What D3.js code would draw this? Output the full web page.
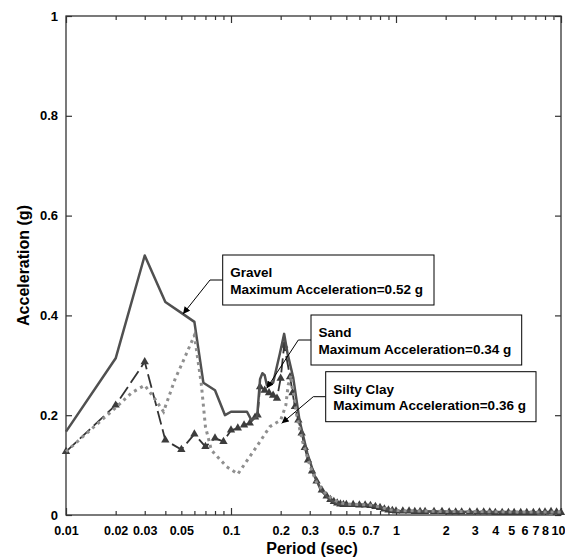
<!DOCTYPE html>
<html>
<head>
<meta charset="utf-8">
<script src="https://cdn.jsdelivr.net/npm/d3@7/dist/d3.min.js"></script>
<style>
  html, body { margin: 0; padding: 0; background: #fff; }
  svg { display: block; font-family: "Liberation Sans", Arial, sans-serif; }
</style>
</head>
<body>
<svg id="chart" width="565" height="559"></svg>
<script>
// ---------- data ----------
const gravelPeriod = [0.01, 0.02, 0.03, 0.04, 0.05, 0.06, 0.068, 0.08, 0.092, 0.1, 0.125, 0.133, 0.144, 0.15, 0.155, 0.16, 0.165, 0.18, 0.198, 0.21, 0.22, 0.238, 0.26, 0.29, 0.32, 0.35, 0.4, 0.45, 0.5, 0.6, 0.7, 0.8, 0.9, 1.0, 1.5, 2, 3, 5, 7, 10];
const gravelAcc    = [0.167, 0.314, 0.52, 0.427, 0.405, 0.387, 0.265, 0.25, 0.2, 0.207, 0.207, 0.19, 0.197, 0.272, 0.284, 0.28, 0.26, 0.265, 0.324, 0.363, 0.324, 0.276, 0.19, 0.124, 0.08, 0.05, 0.03, 0.022, 0.021, 0.021, 0.02, 0.016, 0.011, 0.008, 0.007, 0.007, 0.006, 0.006, 0.005, 0.005];

const sandPeriod = [0.01, 0.02, 0.03, 0.04, 0.05, 0.06, 0.07, 0.08, 0.09, 0.1, 0.11, 0.12, 0.13, 0.14, 0.145, 0.15, 0.16, 0.17, 0.18, 0.19, 0.2, 0.21, 0.228, 0.236, 0.244, 0.256, 0.268, 0.28, 0.293, 0.31, 0.33, 0.355, 0.38, 0.4, 0.42, 0.44, 0.46, 0.48, 0.5, 0.55, 0.6, 0.65, 0.7, 0.75, 0.8, 0.85, 0.9, 0.95, 1.0, 1.1, 1.2, 1.3, 1.4, 1.5, 1.7, 1.9, 2.1, 2.3, 2.5, 2.8, 3.1, 3.4, 3.7, 4.0, 4.4, 4.8, 5.2, 5.7, 6.2, 6.8, 7.4, 8.0, 8.7, 9.4, 10];
const sandAcc    = [0.127, 0.22, 0.307, 0.15, 0.131, 0.162, 0.137, 0.154, 0.147, 0.17, 0.174, 0.18, 0.184, 0.196, 0.2, 0.257, 0.25, 0.245, 0.24, 0.234, 0.274, 0.34, 0.277, 0.245, 0.217, 0.19, 0.164, 0.135, 0.11, 0.088, 0.068, 0.05, 0.038, 0.031, 0.027, 0.024, 0.022, 0.021, 0.021, 0.021, 0.02, 0.02, 0.019, 0.017, 0.015, 0.012, 0.01, 0.009, 0.008, 0.008, 0.008, 0.007, 0.007, 0.007, 0.007, 0.007, 0.006, 0.006, 0.006, 0.006, 0.006, 0.006, 0.006, 0.005, 0.005, 0.005, 0.005, 0.005, 0.005, 0.005, 0.006, 0.006, 0.007, 0.006, 0.005];

const siltPeriod = [0.01, 0.02, 0.025, 0.03, 0.035, 0.039, 0.046, 0.05, 0.06, 0.066, 0.07, 0.076, 0.094, 0.11, 0.143, 0.172, 0.2, 0.215, 0.222, 0.231, 0.25, 0.27, 0.3, 0.33, 0.38, 0.45, 0.5, 0.6, 0.7, 0.8, 0.9, 1.0, 1.5, 2, 3, 5, 7, 10];
const siltAcc    = [0.127, 0.215, 0.245, 0.26, 0.23, 0.207, 0.274, 0.3, 0.36, 0.264, 0.177, 0.13, 0.097, 0.082, 0.137, 0.177, 0.19, 0.22, 0.26, 0.28, 0.2, 0.15, 0.1, 0.065, 0.04, 0.025, 0.022, 0.021, 0.02, 0.016, 0.011, 0.009, 0.008, 0.007, 0.007, 0.006, 0.006, 0.006];

const xTickValues = [0.01,0.02,0.03,0.04,0.05,0.06,0.07,0.08,0.09,0.1,0.2,0.3,0.4,0.5,0.6,0.7,0.8,0.9,1,2,3,4,5,6,7,8,9,10];
const xTickLabels = {0.01:"0.01",0.02:"0.02",0.03:"0.03",0.05:"0.05",0.1:"0.1",0.2:"0.2",0.3:"0.3",0.5:"0.5",0.7:"0.7",1:"1",2:"2",3:"3",4:"4",5:"5",6:"6",7:"7",8:"8",10:"10"};
const xDecades = [0.01, 0.1, 1, 10];
const yTickValues = [0, 0.2, 0.4, 0.6, 0.8, 1];
const yTickLabels = ["0", "0.2", "0.4", "0.6", "0.8", "1"];

const annotations = [
  { lines: ["Gravel", "Maximum Acceleration=0.52 g"], box: [222.7, 255, 211.3, 50], elbow: [210, 280], tip: [183, 314], anchorY: 280 },
  { lines: ["Sand", "Maximum Acceleration=0.34 g"], box: [311, 315, 210.7, 50], elbow: [298.3, 340], tip: [266.7, 388.3], anchorY: 340 },
  { lines: ["Silty Clay", "Maximum Acceleration=0.36 g"], box: [325.7, 371.7, 210.3, 50], elbow: [313.3, 396.7], tip: [281.7, 423.3], anchorY: 396.7 }
];

// ---------- layout ----------
const svg = d3.select("#chart");
const L = 66, R = 561, T = 16, B = 515;
const x = d3.scaleLog().domain([0.01, 10]).range([L, R]);
const y = d3.scaleLinear().domain([0, 1]).range([B, T]);
const axisColor = "#333";

// frame
svg.append("rect").attr("x", L).attr("y", T).attr("width", R - L).attr("height", B - T)
  .attr("fill", "none").attr("stroke", axisColor).attr("stroke-width", 1.3);

function styleAxis(g) {
  g.select(".domain").remove();
  g.selectAll(".tick line").attr("stroke", axisColor).attr("stroke-width", 1.2);
  g.selectAll(".tick text").attr("fill", "#000").attr("font-size", 12.5).attr("font-weight", "bold")
    .attr("font-family", "'Liberation Sans', Arial, sans-serif");
}

// bottom axis
const gx = svg.append("g").attr("transform", `translate(0,${B})`)
  .call(d3.axisBottom(x).tickValues(xTickValues).tickSizeInner(-4).tickSizeOuter(0).tickPadding(11)
    .tickFormat(d => xTickLabels[d] || ""));
styleAxis(gx);
gx.selectAll(".tick line").filter(d => xDecades.includes(d)).attr("y2", -7);
// keep the last label inside the picture
gx.selectAll(".tick").filter(d => d === 10).select("text").attr("text-anchor", "end").attr("x", 565 - R);

// top axis
const gxt = svg.append("g").attr("transform", `translate(0,${T})`)
  .call(d3.axisTop(x).tickValues(xTickValues).tickSizeInner(-4).tickSizeOuter(0).tickFormat(""));
styleAxis(gxt);
gxt.selectAll(".tick line").filter(d => xDecades.includes(d)).attr("y2", 7);

// left axis
const gy = svg.append("g").attr("transform", `translate(${L},0)`)
  .call(d3.axisLeft(y).tickValues(yTickValues).tickSizeInner(-6).tickSizeOuter(0).tickPadding(8)
    .tickFormat((d, i) => yTickLabels[i]));
styleAxis(gy);
gy.selectAll(".tick text").attr("font-size", 13);

// right axis
const gyr = svg.append("g").attr("transform", `translate(${R},0)`)
  .call(d3.axisRight(y).tickValues(yTickValues).tickSizeInner(-6).tickSizeOuter(0).tickFormat(""));
styleAxis(gyr);

// axis titles
svg.append("text").attr("x", 312).attr("y", 553.5).attr("text-anchor", "middle")
  .attr("font-size", 16).attr("font-weight", "bold").text("Period (sec)");
svg.append("text").attr("transform", `translate(29,${(T + B) / 2}) rotate(-90)`).attr("text-anchor", "middle")
  .attr("font-size", 16).attr("font-weight", "bold").text("Acceleration (g)");

// ---------- series ----------
const line = d3.line().x(d => x(d[0])).y(d => y(d[1]));
const gravel = gravelPeriod.map((p, i) => [p, gravelAcc[i]]);
const sand = sandPeriod.map((p, i) => [p, sandAcc[i]]);
const silt = siltPeriod.map((p, i) => [p, siltAcc[i]]);

const plot = svg.append("g");

plot.append("path").datum(sand).attr("d", line).attr("fill", "none")
  .attr("stroke", "#333").attr("stroke-width", 1.8).attr("stroke-dasharray", "14,5");
plot.selectAll(".tri").data(sand).join("path").attr("class", "tri")
  .attr("transform", d => `translate(${x(d[0])},${y(d[1])})`)
  .attr("d", d3.symbol().type(d3.symbolTriangle).size(30)).attr("fill", "#3c3c3c");

plot.append("path").datum(gravel).attr("d", line).attr("fill", "none")
  .attr("stroke", "#505050").attr("stroke-width", 2.5).attr("stroke-linejoin", "round");

plot.append("path").datum(silt).attr("d", line).attr("fill", "none")
  .attr("stroke", "#8f8f8f").attr("stroke-width", 3).attr("stroke-dasharray", "3,4");

// ---------- annotations ----------
const defs = svg.append("defs");
defs.append("marker").attr("id", "arrow").attr("viewBox", "0 0 10 10").attr("refX", 10).attr("refY", 5)
  .attr("markerWidth", 8).attr("markerHeight", 7).attr("orient", "auto").attr("markerUnits", "userSpaceOnUse")
  .append("path").attr("d", "M0,0 L10,5 L0,10 z").attr("fill", "#000");

annotations.forEach(a => {
  const [bx, by, bw, bh] = a.box;
  svg.append("polyline")
    .attr("points", `${bx},${a.anchorY} ${a.elbow[0]},${a.elbow[1]} ${a.tip[0]},${a.tip[1]}`)
    .attr("fill", "none").attr("stroke", "#000").attr("stroke-width", 1)
    .attr("marker-end", "url(#arrow)");
  svg.append("rect").attr("x", bx).attr("y", by).attr("width", bw).attr("height", bh)
    .attr("fill", "#fff").attr("stroke", "#000").attr("stroke-width", 1);
  a.lines.forEach((t, i) => {
    svg.append("text").attr("x", bx + 7.5).attr("y", by + 22 + i * 16.5)
      .attr("font-size", 13.5).attr("font-weight", "bold").attr("fill", "#000").text(t);
  });
});
</script>
</body>
</html>
